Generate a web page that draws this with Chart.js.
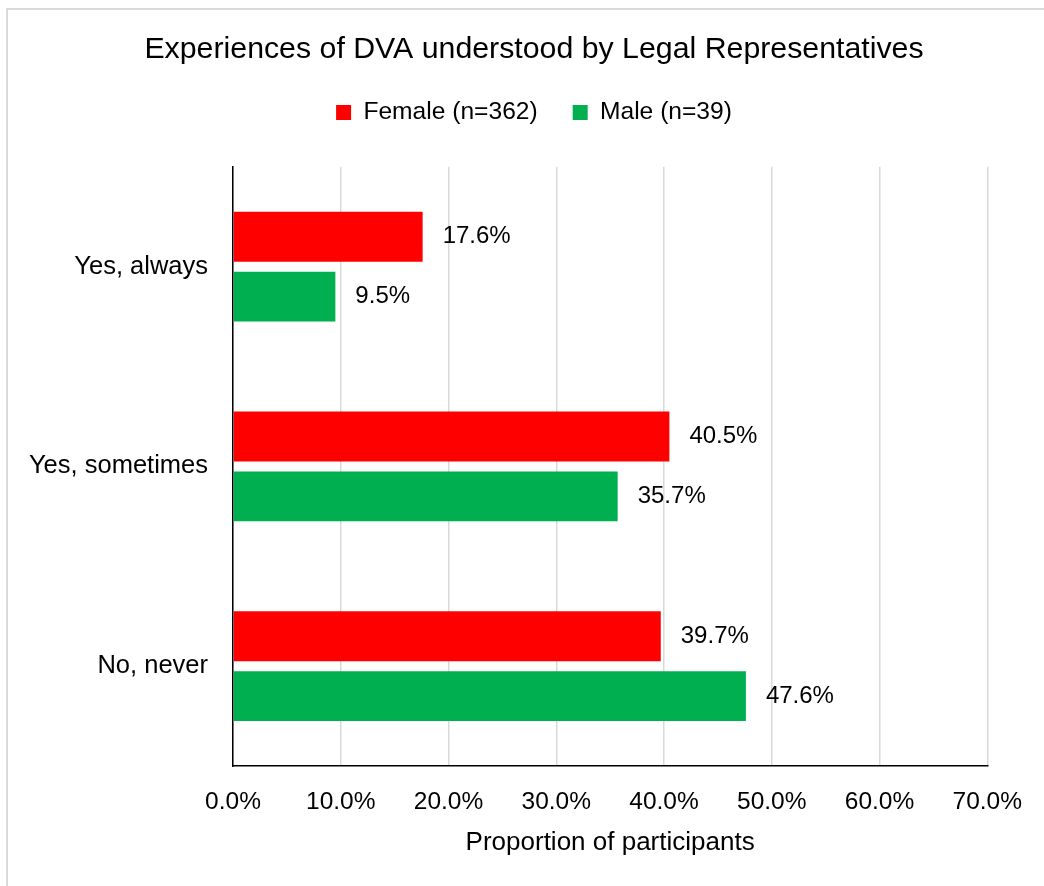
<!DOCTYPE html>
<html>
<head>
<meta charset="utf-8">
<script src="https://cdn.jsdelivr.net/npm/chart.js@4/dist/chart.umd.min.js"></script>
<style>
    body { margin: 0; background: #fff; overflow: hidden; }
    #frame { position: absolute; left: 6px; top: 8px; width: 1100px; height: 1000px; border: 2px solid #d9d9d9; }
    #wrap { position: absolute; left: 0; top: 0; width: 1044px; height: 886px; }
</style>
</head>
<body>
<div id="frame"></div>
<div id="wrap"><canvas id="dvaChart"></canvas></div>
<script>
// Chart data
const categories = ["Yes, always", "Yes, sometimes", "No, never"];
const femaleValues = [17.6, 40.5, 39.7];
const maleValues = [9.5, 35.7, 47.6];
const seriesLabels = ["Female (n=362)", "Male (n=39)"];
const xTicks = [0, 10, 20, 30, 40, 50, 60, 70];

const FONT = "'Liberation Sans', Arial, sans-serif";

// Empty box between legend and plot area
const spacerPlugin = {
    id: "spacer",
    beforeInit(chart) {
        Chart.layouts.addBox(chart, {
            position: "top",
            weight: 0,
            fullSize: true,
            options: {},
            left: 0, top: 0, right: 0, bottom: 0, width: 0, height: 0,
            update(maxWidth) {
                this.width = maxWidth;
                this.height = 32;
            },
            isHorizontal() { return true; },
            getPadding() { return { left: 0, right: 0, top: 0, bottom: 0 }; },
            draw() {}
        });
    },
    // let the long category label draw into the left padding
    afterLayout(chart) {
        chart.scales.y.left = 0;
    }
};

// Value labels at the end of each bar
const valueLabels = {
    id: "valueLabels",
    afterDatasetsDraw(chart) {
        const ctx = chart.ctx;
        ctx.save();
        ctx.font = "24px " + FONT;
        ctx.fillStyle = "#000";
        ctx.textAlign = "left";
        ctx.textBaseline = "middle";
        chart.data.datasets.forEach((ds, i) => {
            chart.getDatasetMeta(i).data.forEach((bar, j) => {
                ctx.fillText(ds.data[j].toFixed(1) + "%", bar.x + 20, bar.y);
            });
        });
        ctx.restore();
    }
};

new Chart(document.getElementById("dvaChart"), {
    type: "bar",
    data: {
        labels: categories,
        datasets: [
            { label: seriesLabels[0], data: femaleValues, backgroundColor: "#FF0000", borderWidth: 0,
              categoryPercentage: 0.6, barPercentage: 0.8333 },
            { label: seriesLabels[1], data: maleValues, backgroundColor: "#00B050", borderWidth: 0,
              categoryPercentage: 0.6, barPercentage: 0.8333 }
        ]
    },
    options: {
        indexAxis: "y",
        responsive: true,
        maintainAspectRatio: false,
        animation: false,
        layout: { padding: { top: 38, right: 52, bottom: 0, left: 76 } },
        plugins: {
            title: {
                display: true,
                text: "Experiences of DVA understood by Legal Representatives",
                color: "#000",
                font: { family: FONT, size: 30.3, weight: "normal", lineHeight: 0.8 },
                padding: { top: 0, bottom: 3 }
            },
            legend: {
                position: "top",
                labels: {
                    color: "#000",
                    font: { family: FONT, size: 24.6 },
                    boxWidth: 15,
                    boxHeight: 15,
                    padding: 35
                }
            },
            tooltip: { enabled: false }
        },
        scales: {
            x: {
                min: 0,
                max: 70,
                afterBuildTicks(scale) {
                    scale.ticks = xTicks.map(v => ({ value: v }));
                },
                afterFit(scale) { scale.height = 120; },
                ticks: {
                    color: "#000",
                    font: { family: FONT, size: 24.5 },
                    padding: 22,
                    callback: v => Number(v).toFixed(1) + "%"
                },
                grid: { color: "#d9d9d9", lineWidth: 1.5, drawTicks: false },
                border: { display: true, color: "#000", width: 1.5 },
                title: {
                    display: true,
                    text: "Proportion of participants",
                    color: "#000",
                    font: { family: FONT, size: 26 },
                    padding: { top: 0, bottom: 28 }
                }
            },
            y: {
                afterFit(scale) { scale.width = 157; },
                ticks: {
                    color: "#000",
                    font: { family: FONT, size: 25.5 },
                    padding: 25
                },
                grid: { display: false, drawTicks: false },
                border: { display: true, color: "#000", width: 1.5 }
            }
        }
    },
    plugins: [spacerPlugin, valueLabels]
});
</script>
</body>
</html>
